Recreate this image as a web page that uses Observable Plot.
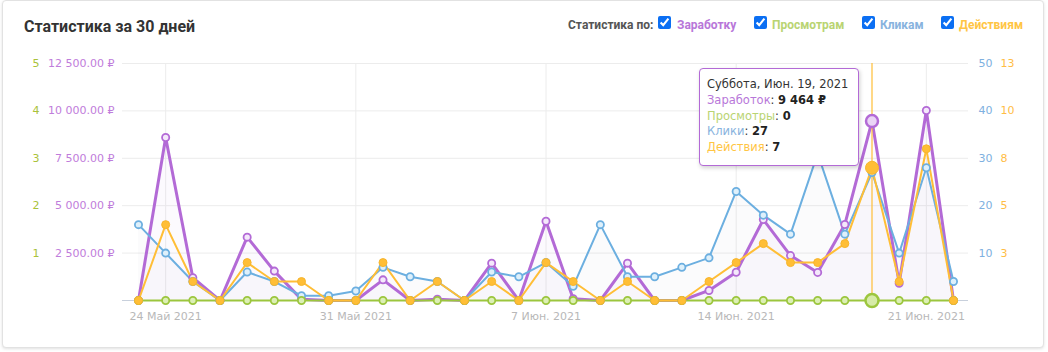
<!DOCTYPE html>
<html>
<head>
<meta charset="utf-8">
<script src="https://cdn.jsdelivr.net/npm/d3@7"></script>
<script src="https://cdn.jsdelivr.net/npm/@observablehq/plot@0.6"></script>
<style>
  html, body { margin: 0; padding: 0; background: #fff; }
  body { width: 1048px; height: 352px; position: relative; overflow: hidden; font-family: Roboto, "Noto Sans", sans-serif; }
  #card { position: absolute; left: 2px; top: 0px; width: 1040px; height: 346px; border: 1px solid #e2e2e2; border-radius: 4px; box-shadow: 0 1px 3px rgba(0,0,0,0.12); background: #fff; }
  #title { position: absolute; left: 24px; top: 17px; font-size: 16px; font-weight: 700; color: #333; }
  .hdr { position: absolute; top: 17px; font-size: 12px; font-weight: 700; line-height: 16px; }
  .cb { position: absolute; top: 16px; width: 13px; height: 13px; margin: 0; accent-color: #0b6ff3; }
  #chart { position: absolute; left: 0; top: 0; }
  #tip { position: absolute; left: 699px; top: 68px; width: 144px; height: 82px; padding: 8px 7px 6px 7px; border: 1px solid #b36ad6; border-radius: 4px; background: #fff; box-shadow: 1px 2px 4px rgba(0,0,0,0.18); font-family: "DejaVu Sans", sans-serif; font-size: 11.5px; line-height: 15.8px; color: #333; white-space: nowrap; }
  #tip b { color: #222; }
</style>
</head>
<body>
<div id="card"></div>
<div id="title">Статистика за 30 дней</div>
<div class="hdr" style="left:568px;color:#555;">Статистика по:</div>
<input type="checkbox" class="cb" style="left:658px" checked>
<div class="hdr" style="left:677px;color:#b877d9;">Заработку</div>
<input type="checkbox" class="cb" style="left:754px" checked>
<div class="hdr" style="left:772px;color:#b9d472;">Просмотрам</div>
<input type="checkbox" class="cb" style="left:862px" checked>
<div class="hdr" style="left:880px;color:#88b3de;">Кликам</div>
<input type="checkbox" class="cb" style="left:941px" checked>
<div class="hdr" style="left:959px;color:#ffc544;">Действиям</div>
<div id="chart"></div>
<div id="tip">
  <div>Суббота, Июн. 19, 2021</div>
  <div><span style="color:#b877d9">Заработок</span>: <b>9 464 ₽</b></div>
  <div><span style="color:#b9d472">Просмотры</span>: <b>0</b></div>
  <div><span style="color:#88b3de">Клики</span>: <b>27</b></div>
  <div><span style="color:#ffc544">Действия</span>: <b>7</b></div>
</div>
<script>
// ---- data ----
const dates = [
  "2021-05-23","2021-05-24","2021-05-25","2021-05-26","2021-05-27","2021-05-28","2021-05-29",
  "2021-05-30","2021-05-31","2021-06-01","2021-06-02","2021-06-03","2021-06-04","2021-06-05",
  "2021-06-06","2021-06-07","2021-06-08","2021-06-09","2021-06-10","2021-06-11","2021-06-12",
  "2021-06-13","2021-06-14","2021-06-15","2021-06-16","2021-06-17","2021-06-18","2021-06-19",
  "2021-06-20","2021-06-21","2021-06-22"
];
const earnings = [0, 8600, 1200, 0, 3340, 1550, 60, 0, 0, 1090, 0, 70, 0, 1970, 0, 4180, 90, 0, 1970, 0, 0, 530, 1490, 4270, 2370, 1480, 4010, 9464, 910, 10020, 0];
const views    = [0, 0, 0, 0, 0, 0, 0, 0, 0, 0, 0, 0, 0, 0, 0, 0, 0, 0, 0, 0, 0, 0, 0, 0, 0, 0, 0, 0, 0, 0, 0];
const clicks   = [16, 10, 4, 0, 6, 4, 1, 1, 2, 7, 5, 4, 0, 6, 5, 8, 3, 16, 5, 5, 7, 9, 23, 18, 14, 31, 14, 27, 10, 28, 4];
const actions  = [0, 4, 1, 0, 2, 1, 1, 0, 0, 2, 0, 1, 0, 1, 0, 2, 1, 0, 1, 0, 0, 1, 2, 3, 2, 2, 3, 7, 1, 8, 0];

const xTickDates  = ["2021-05-24", "2021-05-31", "2021-06-07", "2021-06-14", "2021-06-21"];
const xTickLabels = ["24 Май 2021", "31 Май 2021", "7 Июн. 2021", "14 Июн. 2021", "21 Июн. 2021"];
const earningsTicks = [2500, 5000, 7500, 10000, 12500];
const viewsTicks    = [1, 2, 3, 4, 5];
const clicksTicks   = [10, 20, 30, 40, 50];
const actionsTicks  = [2.5, 5, 7.5, 10, 12.5];
const highlightDate = "2021-06-19";

// axis maxima (shared y scale, each series mapped onto the earnings range)
const maxEarn = 12500, maxViews = 5, maxClicks = 50, maxActions = 12.5;

// ---- build table ----
const parse = d3.utcParse("%Y-%m-%d");
const rows = dates.map((d, i) => ({
  date: parse(d),
  earnings: earnings[i],
  views: views[i] * maxEarn / maxViews,
  clicks: clicks[i] * maxEarn / maxClicks,
  actions: actions[i] * maxEarn / maxActions
}));
const hl = rows.filter(r => +r.date === +parse(highlightDate));
const tickDates = xTickDates.map(parse);
const labelMap = new Map(tickDates.map((d, i) => [+d, xTickLabels[i]]));

const C = { earn: "#b36ad6", views: "#9cc63e", clicks: "#6cafe0", actions: "#ffbe36" };
const fmtRub = d => d3.format(",.2f")(d).replace(/,/g, " ") + " ₽";

const plot = Plot.plot({
  width: 1048,
  height: 352,
  marginTop: 63,
  marginBottom: 52,
  marginLeft: 122,
  marginRight: 80,
  insetLeft: 16,
  insetRight: 15,
  style: { fontFamily: "'DejaVu Sans', Verdana, sans-serif", fontSize: "11px", background: "transparent", overflow: "visible" },
  x: { type: "utc", domain: [rows[0].date, rows[rows.length - 1].date] },
  y: { domain: [0, maxEarn] },
  marks: [
    Plot.gridY(earningsTicks, { stroke: "#ececec", strokeOpacity: 1 }),
    Plot.gridX(tickDates, { stroke: "#ececec", strokeOpacity: 1 }),
    Plot.ruleY([0], { stroke: "#c8d0dc" }),
    Plot.areaY(rows, { x: "date", y: "earnings", fill: C.earn, fillOpacity: 0.035 }),
    Plot.areaY(rows, { x: "date", y: "clicks", fill: "#8090b0", fillOpacity: 0.035 }),
    Plot.lineY(rows, { x: "date", y: "earnings", stroke: C.earn, strokeWidth: 3 }),
    Plot.lineY(rows, { x: "date", y: "views", stroke: C.views, strokeWidth: 2 }),
    Plot.lineY(rows, { x: "date", y: "clicks", stroke: C.clicks, strokeWidth: 2 }),
    Plot.ruleX(hl, { x: "date", stroke: "#ffbe36", strokeWidth: 1.2 }),
    Plot.lineY(rows, { x: "date", y: "actions", stroke: C.actions, strokeWidth: 2 }),
    Plot.dot(rows, { x: "date", y: "earnings", r: 3.6, stroke: C.earn, strokeWidth: 1.8, fill: "#f4e8fb" }),
    Plot.dot(rows, { x: "date", y: "clicks", r: 3.6, stroke: C.clicks, strokeWidth: 1.8, fill: "#def0fb" }),
    Plot.dot(rows, { x: "date", y: "views", r: 3.6, stroke: C.views, strokeWidth: 1.8, fill: "#dcefb5" }),
    Plot.dot(rows, { x: "date", y: "actions", r: 4, stroke: "#f7b52c", strokeWidth: 1, fill: C.actions }),
    Plot.dot(hl, { x: "date", y: "earnings", r: 6, stroke: C.earn, strokeWidth: 2.5, fill: "#ead4f6" }),
    Plot.dot(hl, { x: "date", y: "views", r: 6.5, stroke: C.views, strokeWidth: 2.5, fill: "#d6eba8" }),
    Plot.dot(hl, { x: "date", y: "actions", r: 6.5, stroke: "#f7b52c", strokeWidth: 1, fill: C.actions }),
    Plot.axisY(earningsTicks, { anchor: "left", tickSize: 0, tickPadding: 8, tickFormat: fmtRub, fill: "#bf7ddb", label: null }),
    Plot.axisY(viewsTicks.map(v => v * maxEarn / maxViews), { anchor: "left", tickSize: 0, tickPadding: 83, tickFormat: d => d * maxViews / maxEarn, fill: "#aac23a", label: null }),
    Plot.axisY(clicksTicks.map(v => v * maxEarn / maxClicks), { anchor: "right", tickSize: 0, tickPadding: 10, tickFormat: d => d * maxClicks / maxEarn, fill: "#7eb0e0", label: null }),
    Plot.axisY(actionsTicks.map(v => v * maxEarn / maxActions), { anchor: "right", tickSize: 0, tickPadding: 32, tickFormat: d => Math.round(d * maxActions / maxEarn), fill: "#ffbd45", label: null }),
    Plot.axisX(tickDates, { tickSize: 0, tickPadding: 12, tickFormat: d => labelMap.get(+d), fill: "#b8b8b8", label: null })
  ]
});
document.getElementById("chart").appendChild(plot);
</script>
</body>
</html>
